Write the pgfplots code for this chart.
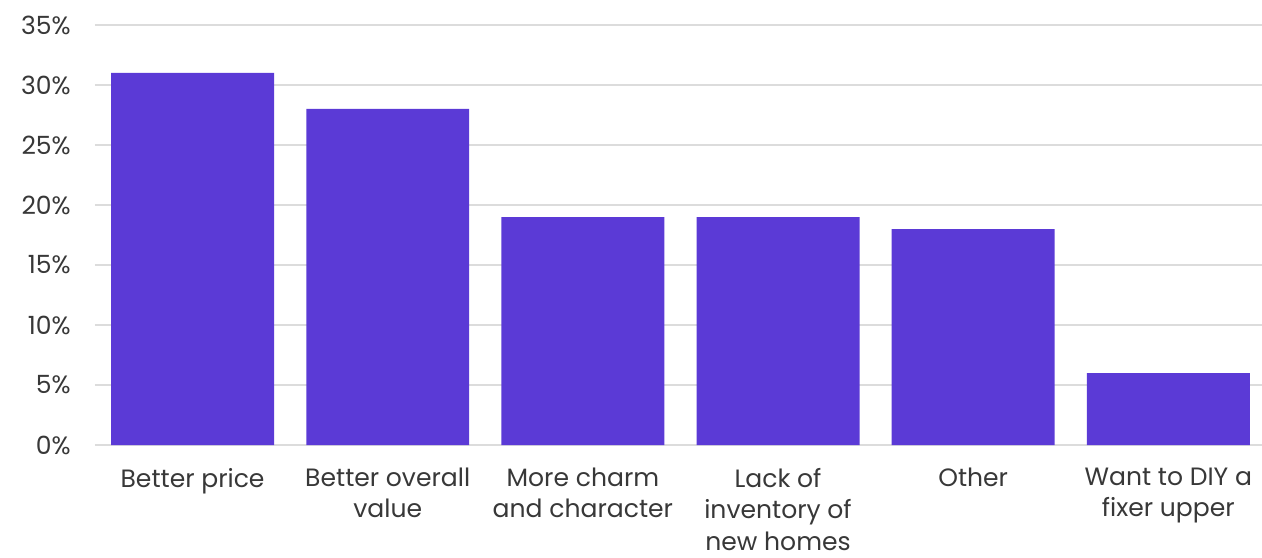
\documentclass[border=0pt]{standalone}
\usepackage{fontspec}
\setmainfont{Poppins}
\usepackage{pgfplots}
\pgfplotsset{compat=1.18}
\definecolor{barpurple}{HTML}{5B3AD6}
\definecolor{gridgray}{HTML}{DCDCDC}
\definecolor{labelgray}{HTML}{383838}
\begin{document}
\begin{tikzpicture}
\begin{axis}[
  name=ax,
  scale only axis,
  width=875.25pt,
  height=315pt,
  xmin=-0.5, xmax=5.48,
  ymin=0, ymax=35,
  ytick={0,5,...,35},
  yticklabel={\pgfmathprintnumber{\tick}\%},
  xtick={0,...,5},
  xticklabels={
    {Better price},
    {Better overall\\value},
    {More charm\\and character},
    {Lack of\\inventory of\\new homes},
    {Other},
    {Want to DIY a\\fixer upper}},
  axis line style={draw=none},
  major tick length=0pt,
  ymajorgrids,
  major grid style={gridgray, line width=1.6pt},
  tick label style={font=\fontsize{18.8}{23.6}\selectfont, text=labelgray},
  yticklabel style={anchor=east, inner sep=0pt, xshift=-18pt},
  xticklabel style={anchor=north, align=center, inner sep=0pt, yshift=-17pt},
  /pgf/number format/assume math mode=true,
  ybar, bar width=0.835,
  clip=false,
]
\addplot[fill=barpurple, draw=none] coordinates {
  (0,31) (1,28) (2,19) (3,19) (4,18) (5,6)
};
\end{axis}
\pgfresetboundingbox
\path[use as bounding box] ([xshift=-71.25pt,yshift=-84pt]ax.south west)
  rectangle ([yshift=18.75pt]ax.north east);
\end{tikzpicture}
\end{document}
